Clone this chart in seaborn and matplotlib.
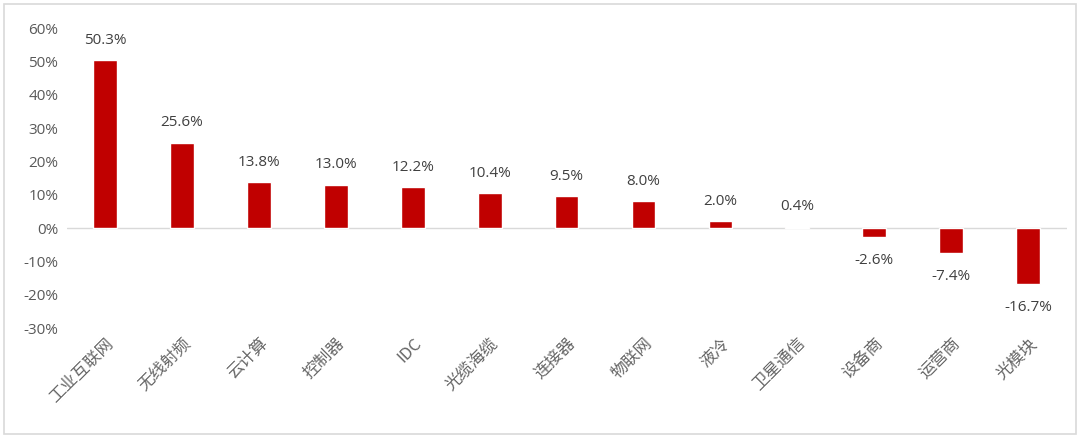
import matplotlib
matplotlib.use('Agg')
import matplotlib.pyplot as plt
import matplotlib.patches as mpatches
import seaborn as sns
import pandas as pd

# 数据
categories = ['工业互联网', '无线射频', '云计算', '控制器', 'IDC', '光缆海缆', '连接器',
              '物联网', '液冷', '卫星通信', '设备商', '运营商', '光模块']
values = [50.3, 25.6, 13.8, 13.0, 12.2, 10.4, 9.5, 8.0, 2.0, 0.4, -2.6, -7.4, -16.7]
yticks = [-30, -20, -10, 0, 10, 20, 30, 40, 50, 60]

sns.set_theme(style='white')
plt.rcParams['font.family'] = ['Open Sans', 'Noto Sans CJK SC', 'DejaVu Sans']
plt.rcParams['axes.unicode_minus'] = False

df = pd.DataFrame({'cat': categories, 'val': values})

fig = plt.figure(figsize=(10.8, 4.38), dpi=100)
ax = fig.add_axes([0.0616, 0.251, 0.926, 0.685])

sns.barplot(data=df, x='cat', y='val', color='#C00000', width=0.31,
            saturation=1, ax=ax, zorder=3)

ax.set_ylim(-30, 60)
ax.set_xlim(-0.5, len(categories) - 0.5)
ax.set_yticks(yticks)
ax.set_yticklabels([f'{t}%' for t in yticks], fontsize=11, color='#595959')
ax.set_xlabel('')
ax.set_ylabel('')
ax.tick_params(axis='y', length=0, pad=6)
ax.tick_params(axis='x', length=0, pad=5)
ax.set_xticks(range(len(categories)))
ax.set_xticklabels(categories, rotation=45, ha='right', rotation_mode='anchor',
                   fontsize=12, color='#666666',
                   family=['Noto Sans CJK SC', 'DejaVu Sans'])

for s in ax.spines.values():
    s.set_visible(False)
ax.axhline(0, color='#D9D9D9', lw=1, zorder=1)

# 数值标签
for i, v in enumerate(values):
    if v >= 0:
        ax.annotate(f'{v:.1f}%', (i, v), xytext=(0, 9), textcoords='offset points',
                    ha='center', va='bottom', fontsize=11, color='#404040')
    else:
        ax.annotate(f'{v:.1f}%', (i, v), xytext=(0, -12), textcoords='offset points',
                    ha='center', va='top', fontsize=11, color='#404040')

# 外边框
fig.patches.append(mpatches.Rectangle((0.004, 0.008), 0.992, 0.984, transform=fig.transFigure,
                                      fill=False, edgecolor='#D9D9D9', lw=1.2))

fig.savefig('out.png', dpi=100)
